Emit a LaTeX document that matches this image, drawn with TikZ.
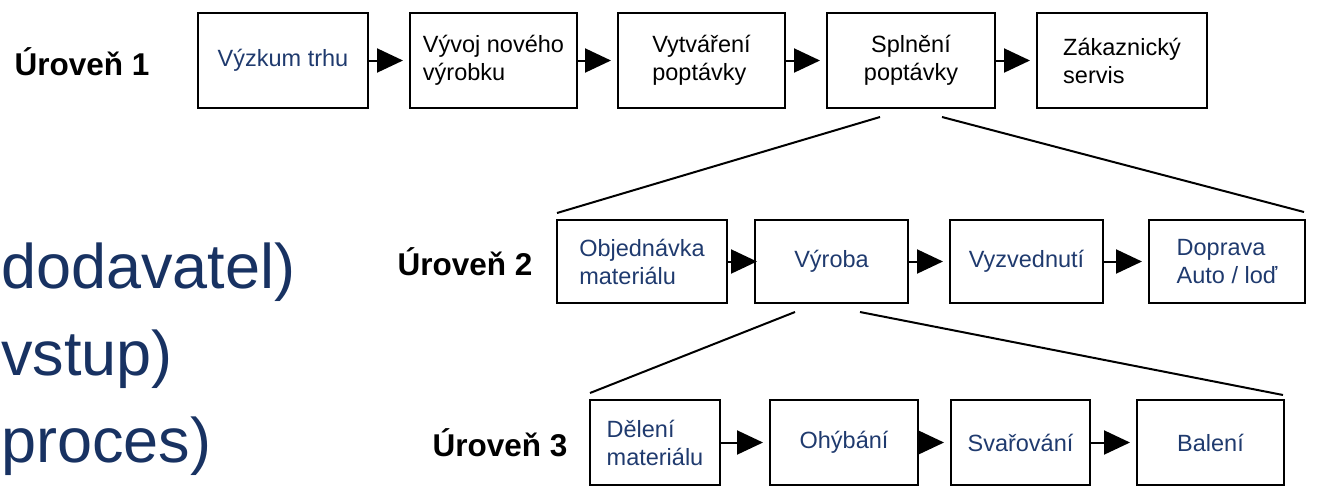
\documentclass[tikz,border=0pt]{standalone}
\usepackage{fontspec}
\setmainfont{Liberation Sans}
\usetikzlibrary{arrows.meta}
\definecolor{navy}{RGB}{31,58,110}
\definecolor{darknavy}{RGB}{24,50,98}
\begin{document}
\begin{tikzpicture}[x=1pt,y=-1pt,
  box/.style={draw=black, line width=2pt, inner sep=0pt, font=\fontsize{23.5}{28}\selectfont},
  bt/.style={text=navy},
  lvl/.style={font=\bfseries\fontsize{31.5}{34}\selectfont, text=black},
  big/.style={font=\fontsize{63}{70}\selectfont, text=darknavy, anchor=base west, inner sep=0pt},
  arr/.style={line width=2pt, -{Triangle[length=26pt,width=24pt]}, shorten >=6pt},
  fan/.style={line width=2pt}]
\useasboundingbox (0,0) rectangle (1317,499);

% Level 1
\node[lvl] (l1) at (82,62) {Úroveň 1};
\node[box, bt, minimum width=170, minimum height=95] (a1) at (283,60.5) {Výzkum trhu};
\node[box, align=left, minimum width=167, minimum height=95] (a2) at (493.5,60.5) {Vývoj nového\\výrobku};
\node[box, align=left, minimum width=167, minimum height=95] (a3) at (701.5,60.5) {Vytváření\\poptávky};
\node[box, align=center, minimum width=168, minimum height=95] (a4) at (911,60.5) {Splnění\\poptávky};
\node[box, align=left, minimum width=170, minimum height=95] (a5) at (1122,60.5) {Zákaznický\\servis};
\draw[arr] (a1.east) -- (a2.west);
\draw[arr] (a2.east) -- (a3.west);
\draw[arr] (a3.east) -- (a4.west);
\draw[arr] (a4.east) -- (a5.west);

% Level 2
\node[lvl] (l2) at (465,262) {Úroveň 2};
\node[box, bt, align=left, minimum width=170, minimum height=83] (b1) at (642,261.5) {Objednávka\\materiálu};
\node[box, bt, minimum width=153, minimum height=83] (b2) at (831.5,261.5) {Výroba};
\node[box, bt, minimum width=153, minimum height=83] (b3) at (1026.5,261.5) {Vyzvednutí};
\node[box, bt, align=left, minimum width=156, minimum height=83] (b4) at (1227,261.5) {Doprava\\Auto / loď};
\draw[arr, shorten >=-3pt] (b1.east) -- (b2.west);
\draw[arr] (b2.east) -- (b3.west);
\draw[arr] (b3.east) -- (b4.west);

% Level 3
\node[lvl] (l3) at (500,443) {Úroveň 3};
\node[box, bt, align=left, minimum width=130, minimum height=85] (c1) at (655,442.5) {Dělení\\materiálu};
\node[box, bt, minimum width=148, minimum height=85] (c2) at (844,442.5) {Ohýbání};
\node[box, bt, minimum width=139, minimum height=85] (c3) at (1020.5,442.5) {Svařování};
\node[box, bt, minimum width=147, minimum height=85] (c4) at (1210.5,442.5) {Balení};
\draw[arr] (c1.east) -- (c2.west);
\draw[arr] (c2.east) -- (c3.west);
\draw[arr] (c3.east) -- (c4.west);

% fan lines
\coordinate (f1a) at (880,117);
\coordinate (f1b) at (557,213);
\coordinate (f2a) at (942,117);
\coordinate (f2b) at (1304,212);
\coordinate (g1a) at (795,312);
\coordinate (g1b) at (590,393);
\coordinate (g2a) at (860,312);
\coordinate (g2b) at (1283,395);
\draw[fan] (f1a) -- (f1b);
\draw[fan] (f2a) -- (f2b);
\draw[fan] (g1a) -- (g1b);
\draw[fan] (g2a) -- (g2b);

% left texts
\node[big] (t1) at (1,288) {dodavatel)};
\node[big] (t2) at (1,375) {vstup)};
\node[big] (t3) at (1,462) {proces)};
\end{tikzpicture}
\end{document}
